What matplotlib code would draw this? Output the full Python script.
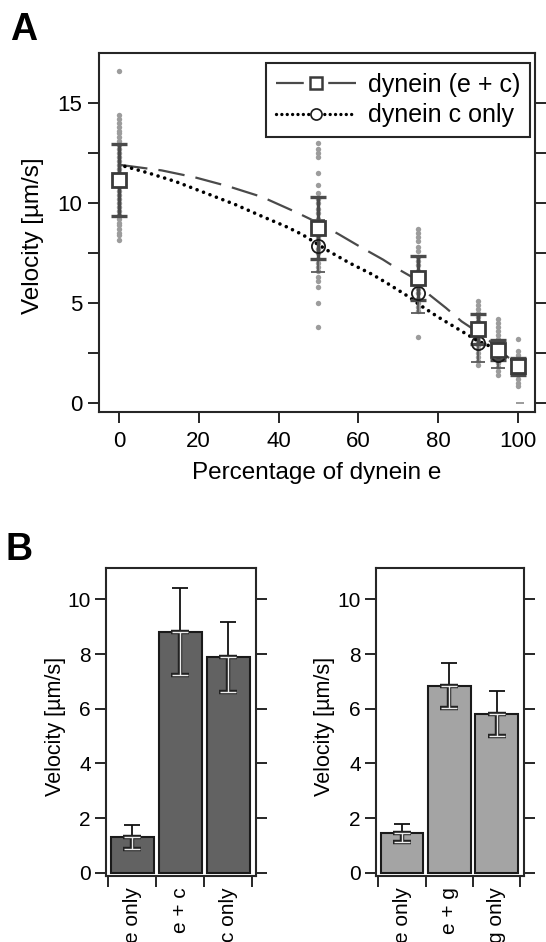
import matplotlib
matplotlib.use("Agg")
import matplotlib.pyplot as plt
from matplotlib.lines import Line2D

plt.rcParams['font.family'] = ['Liberation Sans', 'DejaVu Sans']

# ==== panel A data ====
pct = [0, 50, 75, 90, 95, 100]

ec_mean = [11.17, 8.75, 6.25, 3.70, 2.67, 1.83]
ec_sd   = [1.80, 1.57, 1.10, 0.77, 0.50, 0.42]

c_pct  = [0, 50, 75, 90, 95]
c_mean = [11.17, 7.83, 5.50, 3.00, 2.40]
c_sd   = [1.80, 1.30, 1.00, 0.97, 0.65]

# raw velocities (grey dots), one column per percentage
raw_0   = [16.6, 14.4, 14.2, 14.0, 13.8, 13.6, 13.5, 13.3, 13.1, 12.9, 12.7, 12.5,
           12.3, 12.1, 11.9, 11.7, 11.5, 11.3, 11.0, 10.8, 10.6, 10.4, 10.2, 10.0,
           9.8, 9.6, 9.4, 9.2, 9.0, 8.9, 8.7, 8.5, 8.4, 8.17]
raw_50  = [13.0, 12.7, 12.5, 12.3, 11.5, 10.9, 10.5, 10.2, 10.0, 9.7, 9.5, 9.2,
           9.0, 8.8, 8.5, 8.3, 8.0, 7.7, 7.5, 7.2, 7.0, 6.8, 6.6, 6.3, 6.1, 5.8,
           5.0, 3.8]
raw_75  = [8.7, 8.5, 8.3, 8.1, 7.8, 7.6, 7.3, 7.1, 6.9, 6.6, 6.4, 6.2, 5.9, 5.7,
           5.5, 5.2, 5.0, 4.8, 4.6, 3.3]
raw_90  = [5.1, 4.9, 4.7, 4.5, 4.3, 4.1, 3.9, 3.7, 3.5, 3.3, 3.1, 2.9, 2.7, 2.5,
           2.3, 2.1, 1.9]
raw_95  = [4.2, 4.0, 3.8, 3.6, 3.4, 3.2, 3.0, 2.8, 2.6, 2.4, 2.2, 2.0, 1.8, 1.6, 1.4]
raw_100 = [3.2, 2.6, 2.4, 2.2, 2.0, 1.8, 1.6, 1.4, 1.2, 1.0, 0.85]
raw_cols = [raw_0, raw_50, raw_75, raw_90, raw_95, raw_100]

# fitted curves
fit_x_ec = [0.5, 10.7, 19.1, 27.5, 35.9, 44.3, 50, 55, 60.3, 66.2, 69.5, 74.6,
            77.9, 82, 85.9, 88.4, 92.6, 96, 100]
fit_ec   = [11.9, 11.63, 11.28, 10.83, 10.3, 9.55, 9.0, 8.45, 7.83, 7.17, 6.75,
            6.17, 5.4, 4.75, 4.08, 3.75, 3.17, 2.5, 1.95]
fit_x_c  = [1.5, 7.4, 14.1, 21.7, 29.2, 35.9, 41.8, 46.0, 52.7, 57.8, 63.6, 67.8,
            72.5, 75.8, 80, 85, 90, 93.5, 96.8, 100]
fit_c    = [11.83, 11.5, 11.08, 10.5, 9.92, 9.33, 8.83, 8.42, 7.58, 7.0, 6.42,
            5.92, 5.33, 4.85, 4.3, 3.7, 3.1, 2.8, 2.35, 2.0]

# ==== panel B data ====
left_cats  = ["e only", "e + c", "c only"]
left_vals  = [1.31, 8.82, 7.91]
left_err   = [0.43, 1.58, 1.28]
right_cats = ["e only", "e + g", "g only"]
right_vals = [1.45, 6.84, 5.82]
right_err  = [0.32, 0.83, 0.83]

W, H = 546, 942
fig = plt.figure(figsize=(W / 100, H / 100), dpi=100)

def style_frame(ax):
    for s in ax.spines.values():
        s.set_linewidth(1.5)
        s.set_color('#262626')

# ---------------- panel A ----------------
ax = fig.add_axes([99 / W, 1 - 412 / H, 436 / W, 359 / H])
for x, col in zip(pct, raw_cols):
    ax.scatter([x] * len(col), col, s=15, color='#9c9c9c', linewidths=0, zorder=1)

ax.plot(fit_x_ec, fit_ec, color='#4a4a4a', lw=1.6, dashes=(12, 5), zorder=2)
ax.plot(fit_x_c, fit_c, color='black', lw=2.6, dashes=(0.01, 1.9),
        dash_capstyle='round', zorder=2)

ax.errorbar(c_pct, c_mean, yerr=c_sd, fmt='none', ecolor='#5a5a5a',
            elinewidth=1.3, capsize=5, capthick=1.3, zorder=3)
ax.errorbar(pct, ec_mean, yerr=ec_sd, fmt='none', ecolor='#4a4a4a',
            elinewidth=2.4, capsize=5.5, capthick=2.4, zorder=4)
ax.plot(c_pct, c_mean, 'o', ms=9.5, mfc='none', mec='#1a1a1a', mew=1.3, zorder=5)
ax.plot(pct, ec_mean, 's', ms=10, mfc='white', mec='#3a3a3a', mew=2.0, zorder=6)
ax.plot([100.5], [0.0], marker='_', ms=6, color='#8a8a8a', mew=1.2, zorder=6)

ax.set_xlim(-5, 104.3)
ax.set_ylim(-0.45, 17.5)
ax.set_xticks([0, 20, 40, 60, 80, 100])
ax.set_yticks([0, 5, 10, 15])
ax.set_yticks([2.5, 7.5, 12.5], minor=True)
ax.tick_params(which='both', direction='out', length=8, width=1.4, color='#262626',
               right=True, top=False, labelsize=16)
ax.tick_params(axis='x', pad=6)
ax.tick_params(axis='y', pad=4)
style_frame(ax)
ax.set_xlabel("Percentage of dynein e", fontsize=17.5)
ax.set_ylabel("Velocity [µm/s]", fontsize=17.5)
ax.xaxis.set_label_coords(0.5, -0.139)
ax.yaxis.set_label_coords(-0.126, 0.49)

h1 = Line2D([], [], color='#4a4a4a', lw=1.6, dashes=(12.5, 11), marker='s', ms=8,
            mfc='white', mec='#3a3a3a', mew=1.8)
h2 = Line2D([], [], color='black', lw=2.4, dashes=(0.01, 1.6), dash_capstyle='round',
            marker='o', ms=8, mfc='white', mec='#1a1a1a', mew=1.2)
leg = ax.legend([h1, h2], ["dynein (e + c)", "dynein c only"], loc='upper right',
                bbox_to_anchor=(0.9885, 0.972), borderaxespad=0, fontsize=18,
                handlelength=3.2, handletextpad=0.45, labelspacing=0.25,
                borderpad=0.4, fancybox=False, framealpha=1)
leg.get_frame().set_edgecolor('#262626')
leg.get_frame().set_linewidth(1.5)

fig.text(10 / W, 1 - 40 / H, "A", fontsize=27, fontweight='bold', va='baseline')
fig.text(5 / W, 1 - 560 / H, "B", fontsize=27, fontweight='bold', va='baseline')

# ---------------- panel B ----------------
def bar_panel(rect, cats, vals, errs, color):
    bx = fig.add_axes(rect)
    pos = list(range(len(cats)))
    bx.bar(pos, vals, width=0.9, color=color, edgecolor='#1a1a1a', linewidth=1.5, zorder=2)
    bx.errorbar(pos, vals, yerr=[[0] * 3, errs], fmt='none', ecolor='#111111',
                elinewidth=1.3, capsize=6, capthick=1.3, zorder=3)
    bx.errorbar(pos, vals, yerr=[errs, [0] * 3], fmt='none', ecolor='#222222',
                elinewidth=3.2, capsize=6.3, capthick=3.2, zorder=3)
    bx.errorbar(pos, vals, yerr=[errs, [0] * 3], fmt='none', ecolor='#ededed',
                elinewidth=1.0, capsize=5.5, capthick=1.0, zorder=4)
    bx.set_xlim(-0.55, 2.58)
    bx.set_ylim(-0.12, 11.15)
    bx.set_yticks([0, 2, 4, 6, 8, 10])
    bx.set_xticks([-0.5, 0.5, 1.5, 2.5])
    bx.set_xticklabels([])
    bx.set_xticks(pos, minor=True)
    bx.set_xticklabels(cats, minor=True, rotation=90, fontsize=16, va='top')
    bx.tick_params(which='both', direction='out', length=8, width=1.4, color='#262626',
                   right=True, top=False, labelsize=15)
    bx.tick_params(axis='x', which='minor', length=0, pad=8)
    bx.tick_params(axis='y', pad=3)
    style_frame(bx)
    bx.set_ylabel("Velocity [µm/s]", fontsize=15.5)
    return bx

b1 = bar_panel([106 / W, 1 - 876 / H, 150 / W, 308 / H], left_cats, left_vals,
               left_err, '#626262')
b1.yaxis.set_label_coords(-0.267, 0.487)
b2 = bar_panel([376 / W, 1 - 876 / H, 148 / W, 308 / H], right_cats, right_vals,
               right_err, '#a4a4a4')
b2.yaxis.set_label_coords(-0.28, 0.487)

fig.savefig("out.png", dpi=100)
